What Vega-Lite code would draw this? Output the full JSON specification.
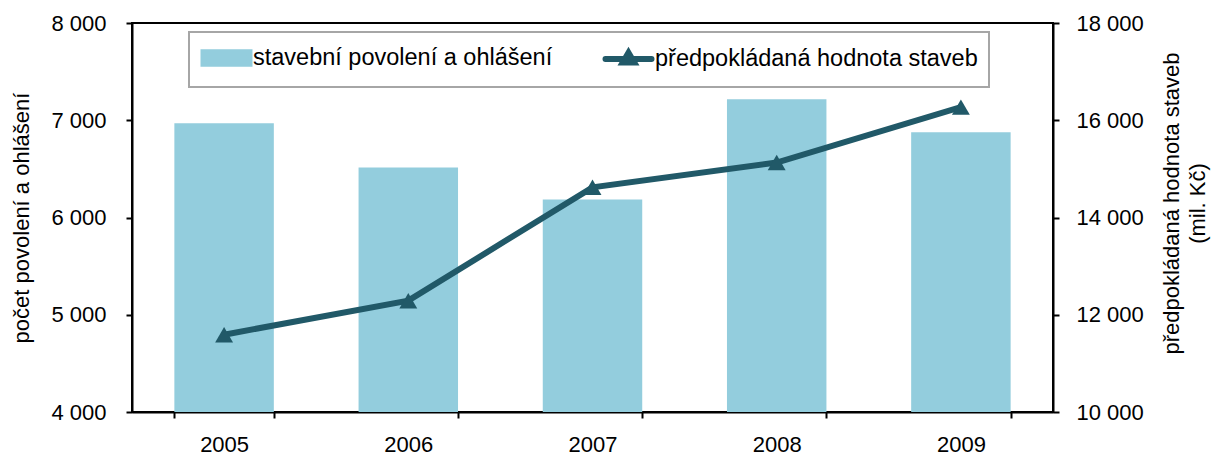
{
  "$schema": "https://vega.github.io/schema/vega-lite/v6.json",
  "width": 921,
  "height": 389,
  "autosize": {"type": "none"},
  "padding": {"left": 132, "top": 23, "right": 158, "bottom": 43},
  "background": "white",
  "config": {
    "font": "Liberation Sans",
    "view": {"stroke": "#000000", "strokeWidth": 2},
    "axis": {
      "labelFont": "Liberation Sans", "labelFontSize": 22, "labelColor": "#000000",
      "titleFont": "Liberation Sans", "titleFontSize": 22, "titleFontWeight": "normal", "titleColor": "#000000",
      "domainColor": "#000000", "domainWidth": 2, "tickColor": "#000000", "tickWidth": 2, "tickSize": 6, "grid": false
    }
  },
  "data": {
    "values": [
      {"rok": "2005", "povoleni": 6970, "hodnota": 11590},
      {"rok": "2006", "povoleni": 6515, "hodnota": 12290},
      {"rok": "2007", "povoleni": 6186, "hodnota": 14620},
      {"rok": "2008", "povoleni": 7216, "hodnota": 15130},
      {"rok": "2009", "povoleni": 6876, "hodnota": 16270}
    ]
  },
  "encoding": {
    "x": {
      "field": "rok", "type": "nominal", "title": null,
      "scale": {"paddingInner": 0.46, "paddingOuter": 0.23},
      "axis": {"labelAngle": 0, "tickBand": "extent", "labelPadding": 16}
    }
  },
  "layer": [
    {
      "mark": {"type": "bar", "clip": true},
      "encoding": {
        "y": {
          "field": "povoleni", "type": "quantitative",
          "title": "počet povolení a ohlášení",
          "scale": {"domain": [4000, 8000], "nice": false, "zero": false},
          "axis": {"values": [4000, 5000, 6000, 7000, 8000], "labelExpr": "replace(format(datum.value, ',d'), ',', ' ')", "labelPadding": 20, "titlePadding": 17}
        },
        "color": {
          "datum": "stavební povolení a ohlášení",
          "scale": {"domain": ["stavební povolení a ohlášení", "předpokládaná hodnota staveb"], "range": ["#93CDDD", "#215968"]},
          "legend": {
            "title": null, "orient": "none", "legendX": 57, "legendY": 9, "direction": "horizontal",
            "padding": 11, "strokeColor": "#a6a6a6",
            "labelFont": "Liberation Sans", "labelFontSize": 23.5, "labelColor": "#000000", "labelLimit": 500,
            "labelOffset": 12, "symbolOffset": 12, "columnPadding": 40, "symbolSize": 529,
            "encode": {
              "legend": {"update": {"strokeWidth": {"value": 2}}},
              "symbols": {
                "update": {
                  "shape": [{"test": "datum.value === 'stavební povolení a ohlášení'", "value": "M-2,-0.5H2V0.5H-2Z"}, {"value": "M-2,0H2M0,-0.55L0.5,0.3L-0.5,0.3Z"}],
                  "fill": [{"test": "datum.value === 'stavební povolení a ohlášení'", "value": "#93CDDD"}, {"value": "#215968"}],
                  "stroke": [{"test": "datum.value === 'stavební povolení a ohlášení'", "value": "transparent"}, {"value": "#215968"}],
                  "strokeWidth": {"value": 6},
                  "strokeCap": {"value": "round"},
                  "size": {"value": 529},
                  "opacity": {"value": 1}
                }
              }
            }
          }
        }
      }
    },
    {
      "mark": {"type": "line", "strokeWidth": 6, "point": {"shape": "triangle-up", "size": 320, "filled": true}},
      "encoding": {
        "y": {
          "field": "hodnota", "type": "quantitative",
          "title": ["předpokládaná hodnota staveb", "(mil. Kč)"],
          "scale": {"domain": [10000, 18000], "nice": false, "zero": false},
          "axis": {"orient": "right", "values": [10000, 12000, 14000, 16000, 18000], "labelExpr": "replace(format(datum.value, ',d'), ',', ' ')", "labelPadding": 17, "titlePadding": 14, "titleAngle": 270, "titleLineHeight": 26, "titleY": 180}
        },
        "color": {"datum": "předpokládaná hodnota staveb"}
      }
    }
  ],
  "resolve": {"scale": {"y": "independent"}}
}
